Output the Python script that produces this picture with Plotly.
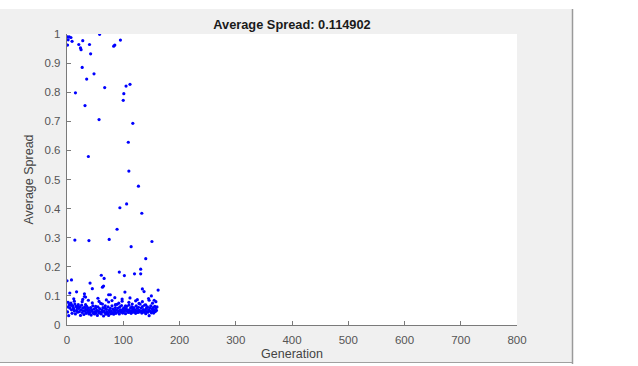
import plotly.graph_objects as go

# ---- data ----
band_gen_a = [1, 2, 3, 4, 5, 6, 7, 8, 9, 10,
              11, 12, 13, 14, 15, 16, 17, 18, 19, 20,
              21, 22, 23, 24, 25, 26, 27, 28, 29, 30,
              31, 32, 33, 34, 35, 36, 37, 38, 39, 40,
              41, 42, 43, 44, 45, 46, 47, 48, 49, 50,
              51, 52, 53, 54, 55, 56, 57, 58, 59, 60,
              61, 62, 63, 64, 65, 66, 67, 68, 69, 70,
              71, 72, 73, 74, 75, 76, 77, 78, 79, 80,
              81, 82, 83, 84, 85, 86, 87, 88, 89, 90,
              91, 92, 93, 94, 95, 96, 97, 98, 99, 100,
              101, 102, 103, 104, 105, 106, 107, 108, 109, 110,
              111, 112, 113, 114, 115, 116, 117, 118, 119, 120,
              121, 122, 123, 124, 125, 126, 127, 128, 129, 130,
              131, 132, 133, 134, 135, 136, 137, 138, 139, 140,
              141, 142, 143, 144, 145, 146, 147, 148, 149, 150,
              151, 152, 153, 154, 155, 156, 157, 158, 159, 160]
band_val_a = [.045, .062, .032, .070, .058, .068, .075, .052, .040, .066,
              .060, .055, .048, .072, .038, .064, .050, .058, .044, .070,
              .057, .046, .062, .033, .052, .068, .043, .058, .049, .036,
              .061, .047, .055, .040, .064, .052, .045, .058, .038, .050,
              .043, .060, .034, .052, .047, .066, .040, .055, .038, .046,
              .058, .042, .050, .033, .062, .048, .041, .056, .044, .074,
              .038, .052, .046, .060, .031, .049, .043, .058, .037, .054,
              .045, .040, .062, .033, .050, .044, .057, .039, .048, .066,
              .042, .055, .037, .050, .046, .060, .040, .052, .071, .045,
              .058, .048, .038, .062, .052, .044, .067, .050, .041, .056,
              .046, .060, .050, .039, .055, .064, .047, .052, .043, .068,
              .050, .045, .058, .040, .062, .049, .054, .044, .060, .047,
              .052, .040, .066, .048, .057, .043, .061, .050, .045, .072,
              .049, .058, .041, .063, .047, .053, .044, .068, .050, .039,
              .057, .046, .062, .044, .052, .032, .059, .048, .066, .042,
              .055, .047, .060, .041, .052, .064, .046, .058, .050, .062]

band_gen_b = [2, 8, 13, 20, 27, 33, 38, 45, 51, 57,
              63, 68, 74, 80, 86, 92, 98, 104, 110, 116,
              122, 128, 134, 140, 146, 152, 158]
band_val_b = [.078, .068, .082, .063, .080, .070, .085, .076, .064, .081,
              .072, .066, .079, .084, .070, .075, .082, .066, .078, .072,
              .083, .074, .080, .069, .085, .075, .080]

mid_gen = [0, 8, 17, 41, 45, 31, 33, 61, 66, 63, 65, 74, 77, 93, 102, 120,
           131, 131, 103, 134, 137, 162, 31, 12, 28, 55, 70, 85, 98, 112,
           125, 145, 155, 5, 150]
mid_val = [0.152, 0.155, 0.114, 0.144, 0.125, 0.098, 0.096, 0.171, 0.160,
           0.130, 0.134, 0.104, 0.104, 0.182, 0.170, 0.176, 0.192, 0.176,
           0.113, 0.124, 0.115, 0.120, 0.107, 0.090, 0.088, 0.092, 0.086,
           0.094, 0.089, 0.093, 0.087, 0.091, 0.085, 0.110, 0.100]

high_gen = [58, 1, 4, 7, 2, 9, 28, 1, 21, 40, 24, 25, 95, 83, 85, 42, 27, 48,
            35, 67, 15, 105, 112, 101, 100, 32, 57, 117, 109, 38, 110, 127,
            94, 106, 133, 89, 14, 39, 75, 151, 114, 140]
high_val = [0.999, 0.990, 0.990, 0.988, 0.980, 0.975, 0.977, 0.962, 0.964,
            0.964, 0.952, 0.946, 0.979, 0.958, 0.962, 0.932, 0.885, 0.863,
            0.845, 0.816, 0.798, 0.821, 0.827, 0.795, 0.772, 0.754, 0.706,
            0.693, 0.628, 0.579, 0.529, 0.477, 0.403, 0.416, 0.384, 0.329,
            0.292, 0.290, 0.294, 0.287, 0.269, 0.228]

x_ticks = [0, 100, 200, 300, 400, 500, 600, 700, 800]
y_ticks = [0, 0.1, 0.2, 0.3, 0.4, 0.5, 0.6, 0.7, 0.8, 0.9, 1]
y_tick_text = ["0", "0.1", "0.2", "0.3", "0.4", "0.5", "0.6", "0.7", "0.8", "0.9", "1"]
title_text = "Average Spread: 0.114902"

gens = band_gen_a + band_gen_b + mid_gen + high_gen
vals = band_val_a + band_val_b + mid_val + high_val

fig = go.Figure()
fig.add_trace(go.Scatter(
    x=gens, y=vals, mode="markers",
    marker=dict(color="#0000ff", size=3.2, line=dict(width=0)),
    showlegend=False, hoverinfo="skip"))

FONT = "Liberation Sans, Arial, sans-serif"
L, R, T, B = 67, 121, 34, 41
W, H = 638, 366
pw, ph = W - L - R, H - T - B

def px_to_paper_x(p):
    return (p - L) / pw

def px_to_paper_y(p):
    return (H - B - p) / ph

fig.update_layout(
    width=W, height=H,
    margin=dict(l=L, r=R, t=T, b=B, pad=0, autoexpand=False),
    paper_bgcolor="white", plot_bgcolor="white",
    font=dict(family=FONT, size=11, color="#4d4d4d"),
    title=dict(text="<b>" + title_text + "</b>", x=0.5, xref="paper",
               xanchor="center", y=1 - 25 / H, yref="container", yanchor="middle",
               automargin=False,
               font=dict(family=FONT, size=12.8, color="#1a1a1a")),
    xaxis=dict(range=[0, 800], tickvals=x_ticks, showgrid=False, zeroline=False,
               showline=True, linecolor="#7a7a7a", linewidth=1.4,
               ticks="inside", ticklen=4, tickcolor="#7a7a7a",
               ticklabelstandoff=4, automargin=False,
               tickfont=dict(size=11.5, color="#555555"),
               title=dict(text="Generation", font=dict(size=12.5, color="#444444"), standoff=4),
               fixedrange=True),
    yaxis=dict(range=[0, 1], tickvals=y_ticks, ticktext=y_tick_text, showgrid=False,
               zeroline=False, showline=True, linecolor="#7a7a7a", linewidth=1.4,
               ticks="inside", ticklen=4, tickcolor="#7a7a7a",
               ticklabelstandoff=3, automargin=False,
               tickfont=dict(size=11.5, color="#555555"),
               title=dict(text="Average Spread", font=dict(size=12.5, color="#444444"), standoff=8),
               fixedrange=True),
    shapes=[
        dict(type="rect", xref="paper", yref="paper",
             x0=px_to_paper_x(0), x1=px_to_paper_x(572),
             y0=px_to_paper_y(362), y1=px_to_paper_y(9),
             fillcolor="#f0f0f0", line=dict(width=0), layer="below"),
        dict(type="rect", xref="paper", yref="paper", x0=0, x1=1, y0=0, y1=1,
             fillcolor="white", line=dict(width=0), layer="below"),
        dict(type="line", xref="paper", yref="paper",
             x0=px_to_paper_x(572.5), x1=px_to_paper_x(572.5),
             y0=px_to_paper_y(364), y1=px_to_paper_y(9),
             line=dict(color="#9a9a9a", width=1.5)),
        dict(type="line", xref="paper", yref="paper",
             x0=px_to_paper_x(0), x1=px_to_paper_x(572),
             y0=px_to_paper_y(362.5), y1=px_to_paper_y(362.5),
             line=dict(color="#a0a0a0", width=1)),
    ],
)

fig.write_html("out.html")
